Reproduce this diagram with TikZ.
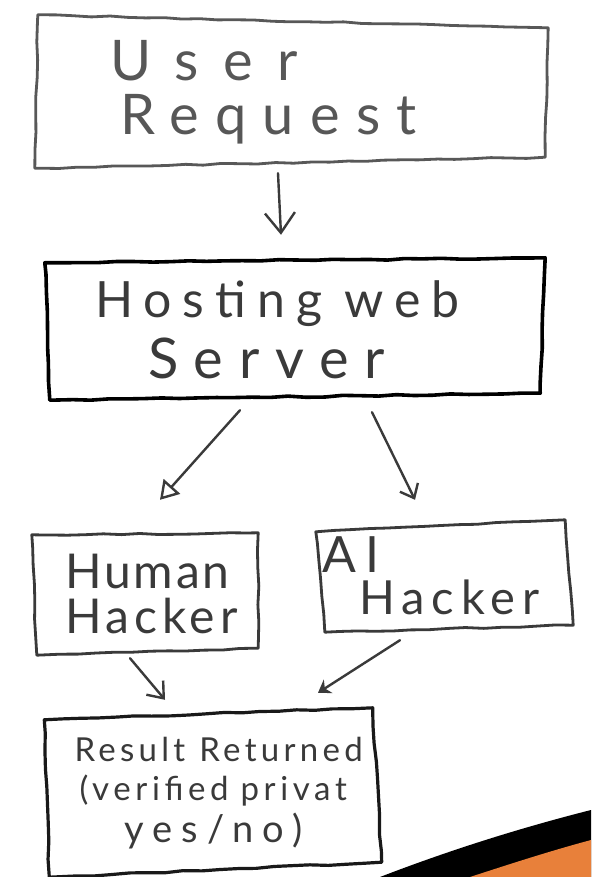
\documentclass[tikz,border=0pt]{standalone}
\usepackage{fontspec}
\setmainfont{Lato}
\usetikzlibrary{arrows.meta,decorations.pathmorphing}
\definecolor{ink}{HTML}{3A3A3A}
\definecolor{swoosh}{HTML}{E8803A}
\newcommand{\handsz}[2]{\fontsize{#1}{#1}\selectfont\addfontfeatures{LetterSpace=#2}}
\tikzset{
  lbl/.style={inner sep=0pt, text=ink, align=left},
  boxline/.style={draw=ink, line width=2.8pt, line join=round, line cap=round,
    decorate, decoration={random steps, segment length=18pt, amplitude=0.8pt}},
  arr/.style={draw=ink, line width=2.4pt, line cap=round, line join=round},
}
\begin{document}
\begin{tikzpicture}[x=1pt,y=-1pt]
\useasboundingbox (0,0) rectangle (591,877);
\fill[white] (0,0) rectangle (591,877);

% nodes (text)
\node[lbl, text width=510pt, minimum height=150pt, text=ink!85] (ur) at (292,92)
  {\hspace*{73pt}\handsz{56}{44}User\\[12pt]
   \hspace*{83pt}\handsz{56}{29}Request};
\node[lbl, text width=500pt, minimum height=140pt] (hs) at (295,330)
  {\hspace*{50pt}\handsz{50}{22}Hosting\hspace{22pt}web\\[10pt]
   \hspace*{103pt}\handsz{56}{28}Server};
\node[lbl, text width=226pt, minimum height=120pt] (hh) at (145,594)
  {\hspace*{33pt}\handsz{48}{6}Human\\[8pt]
   \hspace*{33pt}\handsz{48}{10}Hacker};
\node[lbl, text width=254pt, minimum height=110pt] (ai) at (444,576)
  {\hspace*{5pt}\handsz{50}{20}AI\\[6pt]
   \hspace*{42pt}\handsz{47}{15}Hacker};
\node[lbl, text width=335pt, minimum height=160pt] (rr) at (213,793)
  {\hspace*{29pt}\handsz{33}{13}Result\hspace{14pt}Returned\\[6pt]
   \hspace*{34pt}\handsz{33}{14}(verified\hspace{12pt}privat\\[6pt]
   \hspace*{79pt}\handsz{38}{24}yes/no)};

% hand-drawn boxes
\draw[boxline, draw=ink!85] ([shift={(1,-2)}]ur.north west) -- ([shift={(1,11)}]ur.north east)
  -- ([shift={(-2,-10)}]ur.south east) -- ([shift={(-2,1)}]ur.south west) -- cycle;
\draw[boxline, draw=black, line width=3.6pt] ([shift={(0,3)}]hs.north west) -- ([shift={(0,-2)}]hs.north east)
  -- ([shift={(-5,-7)}]hs.south east) -- ([shift={(5,0)}]hs.south west) -- cycle;
\draw[boxline] ([shift={(0,1)}]hh.north west) -- ([shift={(0,-1)}]hh.north east)
  -- ([shift={(0,-6)}]hh.south east) -- ([shift={(5,1)}]hh.south west) -- cycle;
\draw[boxline] ([shift={(-1,11)}]ai.north west) -- ([shift={(-6,-1)}]ai.north east)
  -- ([shift={(2,-6)}]ai.south east) -- ([shift={(8,1)}]ai.south west) -- cycle;
\draw[boxline, draw=black!90, line width=3.2pt] ([shift={(-1,7)}]rr.north west) -- ([shift={(-8,-5)}]rr.north east)
  -- ([shift={(1,-11)}]rr.south east) -- ([shift={(4,4)}]rr.south west) -- cycle;

% connectors
\draw[arr, -{Straight Barb[length=20pt,width=30pt]}] ([shift={(-14,6)}]ur.south) -- ([shift={(-14,-25)}]hs.north);
\draw[arr, -{Triangle[open,length=18pt,width=22pt]}] ([shift={(-55,10)}]hs.south) -- ([shift={(15,-34)}]hh.north);
\draw[arr, -{Straight Barb[length=12pt,width=20pt]}] ([shift={(77,12)}]hs.south) -- ([shift={(-29,-21)}]ai.north);
\draw[arr, -{Straight Barb[length=14pt,width=22pt]}] ([shift={(-15,4)}]hh.south) -- ([shift={(-48,-13)}]rr.north);
\draw[arr, -{Stealth[length=12pt,width=16pt]}] ([shift={(-44,9)}]ai.south) -- ([shift={(105,-20)}]rr.north);

% corner swoosh
\fill[black] (380,877) .. controls (450,850) and (520,828) .. (591,810) -- (591,877) -- cycle;
\fill[swoosh] (470,877) .. controls (510,864) and (550,851) .. (591,840) -- (591,877) -- cycle;
\end{tikzpicture}
\end{document}
